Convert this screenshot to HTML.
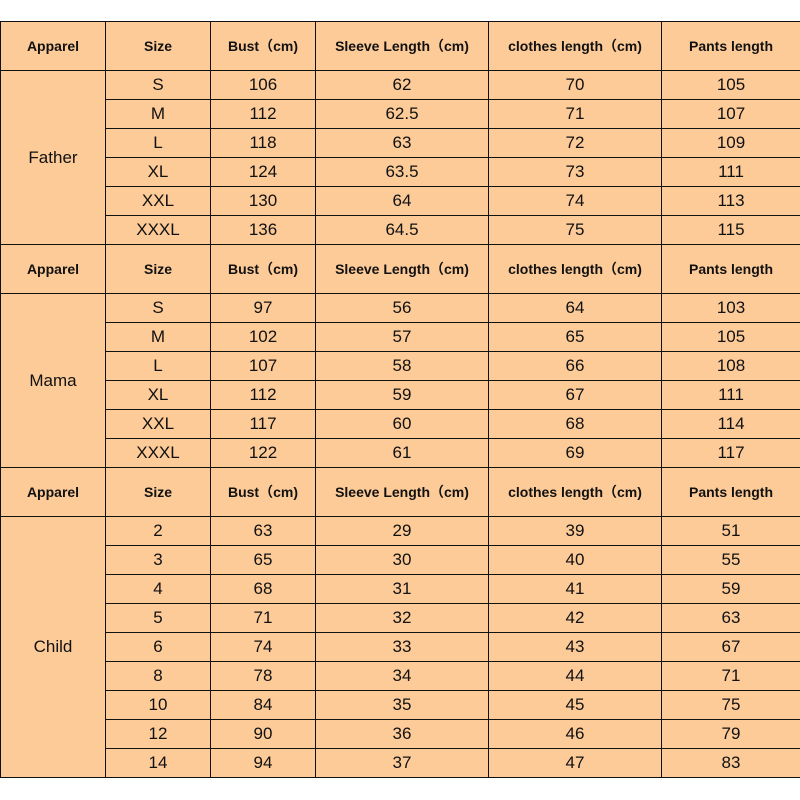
<!DOCTYPE html>
<html><head><meta charset="utf-8"><style>
html,body{margin:0;padding:0;background:#fff;width:800px;height:800px;overflow:hidden}
table{position:absolute;left:0;top:21px;border-collapse:collapse;table-layout:fixed;width:800px;font-family:"Liberation Sans","Noto Sans CJK SC",sans-serif;color:#111}
td{background:#FDCB98;border:1.5px solid #111;text-align:center;padding:0;font-size:17px;height:28px}
tr.h td{font-size:14px;font-weight:bold;height:48px}
</style></head><body>
<table>
<colgroup><col style="width:105px"><col style="width:105px"><col style="width:105px"><col style="width:173px"><col style="width:173px"><col style="width:139px"></colgroup>
<tr class="h"><td>Apparel</td><td>Size</td><td>Bust（cm)</td><td>Sleeve Length（cm)</td><td>clothes length（cm)</td><td>Pants length</td></tr>
<tr><td rowspan="6">Father</td><td>S</td><td>106</td><td>62</td><td>70</td><td>105</td></tr>
<tr><td>M</td><td>112</td><td>62.5</td><td>71</td><td>107</td></tr>
<tr><td>L</td><td>118</td><td>63</td><td>72</td><td>109</td></tr>
<tr><td>XL</td><td>124</td><td>63.5</td><td>73</td><td>111</td></tr>
<tr><td>XXL</td><td>130</td><td>64</td><td>74</td><td>113</td></tr>
<tr><td>XXXL</td><td>136</td><td>64.5</td><td>75</td><td>115</td></tr>
<tr class="h"><td>Apparel</td><td>Size</td><td>Bust（cm)</td><td>Sleeve Length（cm)</td><td>clothes length（cm)</td><td>Pants length</td></tr>
<tr><td rowspan="6">Mama</td><td>S</td><td>97</td><td>56</td><td>64</td><td>103</td></tr>
<tr><td>M</td><td>102</td><td>57</td><td>65</td><td>105</td></tr>
<tr><td>L</td><td>107</td><td>58</td><td>66</td><td>108</td></tr>
<tr><td>XL</td><td>112</td><td>59</td><td>67</td><td>111</td></tr>
<tr><td>XXL</td><td>117</td><td>60</td><td>68</td><td>114</td></tr>
<tr><td>XXXL</td><td>122</td><td>61</td><td>69</td><td>117</td></tr>
<tr class="h"><td>Apparel</td><td>Size</td><td>Bust（cm)</td><td>Sleeve Length（cm)</td><td>clothes length（cm)</td><td>Pants length</td></tr>
<tr><td rowspan="9">Child</td><td>2</td><td>63</td><td>29</td><td>39</td><td>51</td></tr>
<tr><td>3</td><td>65</td><td>30</td><td>40</td><td>55</td></tr>
<tr><td>4</td><td>68</td><td>31</td><td>41</td><td>59</td></tr>
<tr><td>5</td><td>71</td><td>32</td><td>42</td><td>63</td></tr>
<tr><td>6</td><td>74</td><td>33</td><td>43</td><td>67</td></tr>
<tr><td>8</td><td>78</td><td>34</td><td>44</td><td>71</td></tr>
<tr><td>10</td><td>84</td><td>35</td><td>45</td><td>75</td></tr>
<tr><td>12</td><td>90</td><td>36</td><td>46</td><td>79</td></tr>
<tr><td>14</td><td>94</td><td>37</td><td>47</td><td>83</td></tr>
</table>
</body></html>
